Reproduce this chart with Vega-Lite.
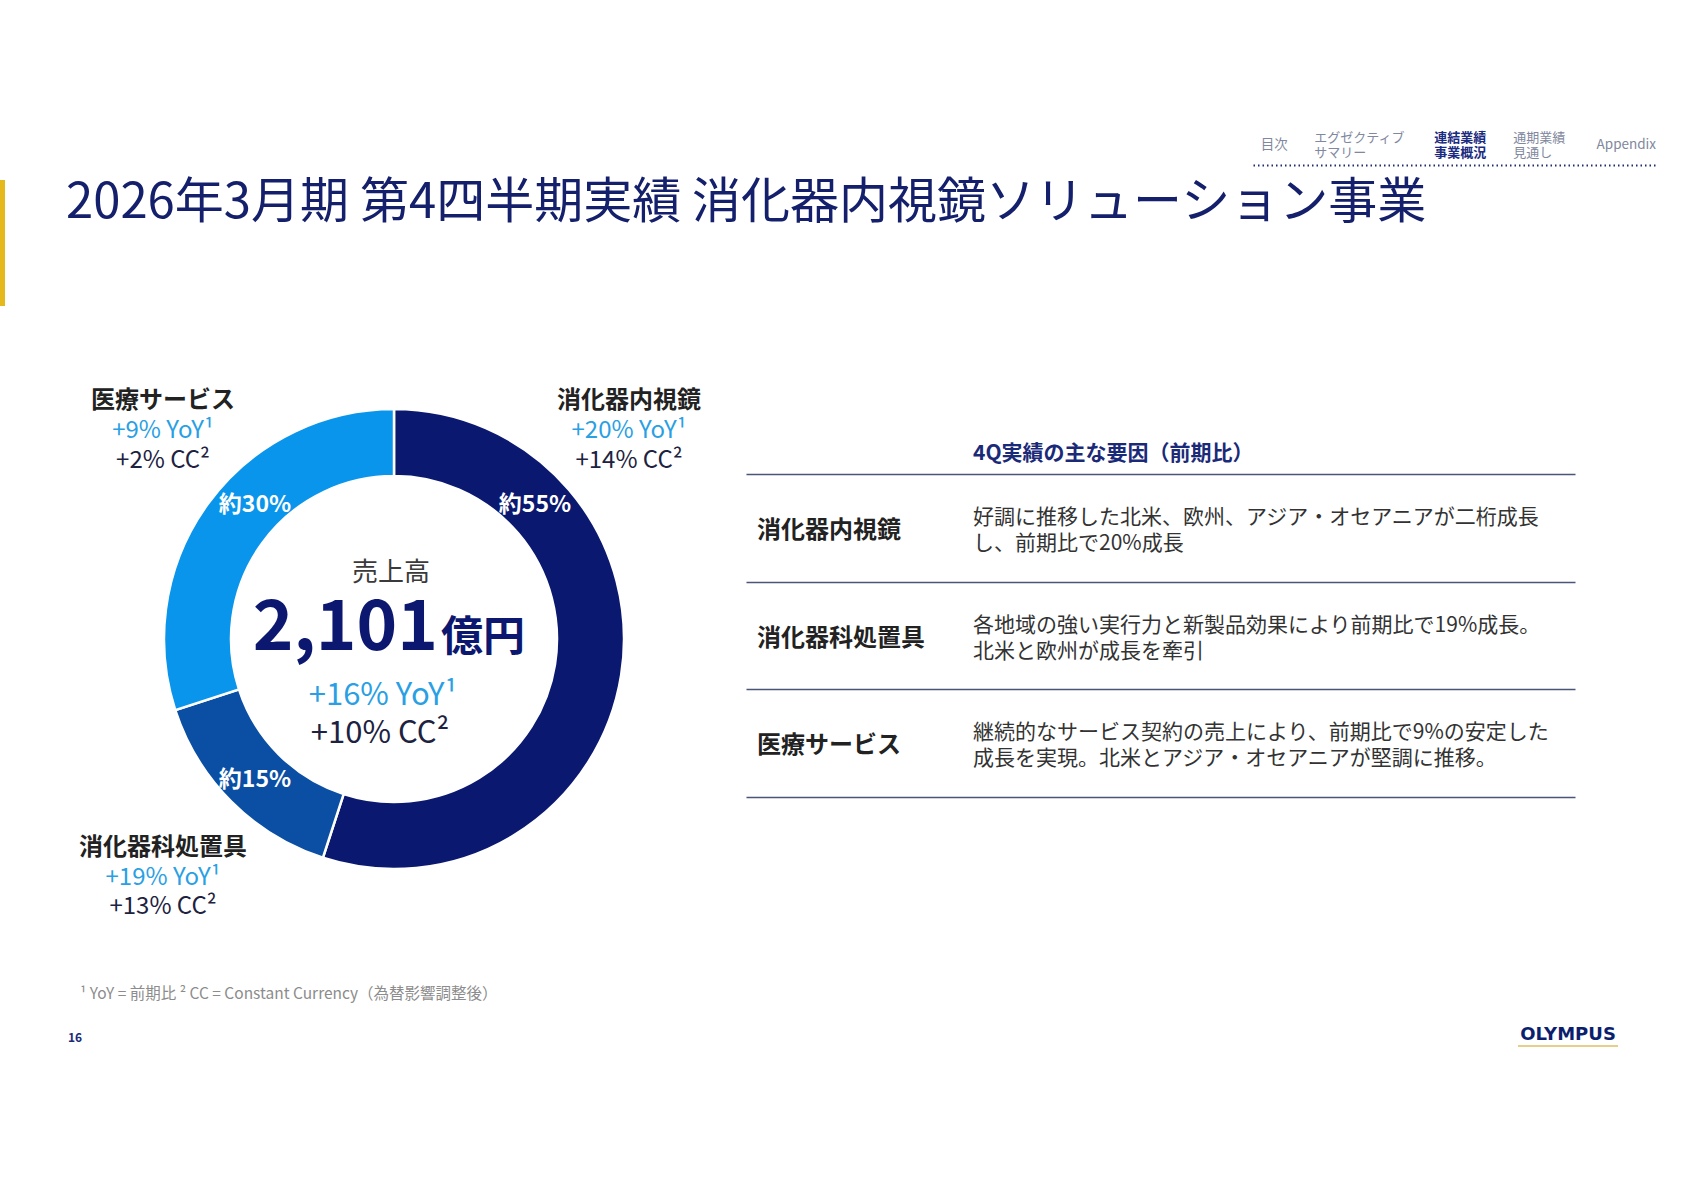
{
  "$schema": "https://vega.github.io/schema/vega-lite/v6.json",
  "width": 1683,
  "height": 1190,
  "autosize": {"type": "fit", "contains": "padding"},
  "padding": 0,
  "background": "#ffffff",
  "config": {"view": {"stroke": null}, "font": "Noto Sans CJK JP"},
  "datasets": {
    "header": [{"area": "タイトル", "title": "2026年3月期 第4四半期実績 消化器内視鏡ソリューション事業"}],
    "nav": [
      {"area": "ナビ", "item": "目次", "label": "目次", "current": false},
      {"area": "ナビ", "item": "エグゼクティブサマリー", "label": "エグゼクティブ\nサマリー", "current": false},
      {"area": "ナビ", "item": "連結業績事業概況", "label": "連結業績\n事業概況", "current": true},
      {"area": "ナビ", "item": "通期業績見通し", "label": "通期業績\n見通し", "current": false},
      {"area": "ナビ", "item": "Appendix", "label": "Appendix", "current": false}
    ],
    "segments": [
      {"business": "消化器内視鏡ソリューション事業", "segment": "消化器内視鏡", "rank": 1, "share": 55, "shareLabel": "約55%", "yoy": "+20% YoY¹", "cc": "+14% CC²", "side": "right", "level": "upper"},
      {"business": "消化器内視鏡ソリューション事業", "segment": "消化器科処置具", "rank": 2, "share": 15, "shareLabel": "約15%", "yoy": "+19% YoY¹", "cc": "+13% CC²", "side": "left", "level": "lower"},
      {"business": "消化器内視鏡ソリューション事業", "segment": "医療サービス", "rank": 3, "share": 30, "shareLabel": "約30%", "yoy": "+9% YoY¹", "cc": "+2% CC²", "side": "left", "level": "upper"}
    ],
    "total": [{"business": "消化器内視鏡ソリューション事業", "caption": "売上高", "sales": 2101, "unit": "億円", "yoy": "+16% YoY¹", "cc": "+10% CC²"}],
    "drivers": [
      {"segment": "消化器内視鏡", "column": "事業", "text": "消化器内視鏡"},
      {"segment": "消化器内視鏡", "column": "4Q実績の主な要因（前期比）", "text": "好調に推移した北米、欧州、アジア・オセアニアが二桁成長\nし、前期比で20%成長"},
      {"segment": "消化器科処置具", "column": "事業", "text": "消化器科処置具"},
      {"segment": "消化器科処置具", "column": "4Q実績の主な要因（前期比）", "text": "各地域の強い実行力と新製品効果により前期比で19%成長。\n北米と欧州が成長を牽引"},
      {"segment": "医療サービス", "column": "事業", "text": "医療サービス"},
      {"segment": "医療サービス", "column": "4Q実績の主な要因（前期比）", "text": "継続的なサービス契約の売上により、前期比で9%の安定した\n成長を実現。北米とアジア・オセアニアが堅調に推移。"}
    ],
    "footer": [
      {"area": "注記", "text": "¹ YoY = 前期比  ² CC = Constant Currency（為替影響調整後）"},
      {"area": "ページ", "text": "16"},
      {"area": "ロゴ", "text": "OLYMPUS"}
    ]
  },
  "resolve": {"scale": {"x": "independent", "y": "independent"}, "axis": {"x": "independent", "y": "independent"}},
  "layer": [
    {
      "data": {"name": "header"},
      "mark": {"type": "rect", "color": "#e5b81c"},
      "encoding": {
        "x": {"field": "area", "type": "nominal", "scale": {"type": "band", "range": [0, 5], "paddingInner": 0, "paddingOuter": 0}, "axis": null},
        "y": {"field": "area", "type": "nominal", "scale": {"type": "band", "range": [180, 306], "paddingInner": 0, "paddingOuter": 0}, "axis": null}
      }
    },
    {
      "data": {"name": "header"},
      "mark": {"type": "text", "align": "left", "baseline": "middle", "fontSize": 49, "color": "#15206c"},
      "encoding": {
        "text": {"field": "title"},
        "x": {"field": "area", "type": "nominal", "scale": {"type": "point", "range": [66, 66]}, "axis": null},
        "y": {"field": "area", "type": "nominal", "scale": {"type": "point", "range": [203, 203]}, "axis": null}
      }
    },
    {
      "data": {"name": "nav"},
      "encoding": {
        "x": {"field": "item", "type": "nominal", "scale": {"type": "point", "domain": ["目次", "エグゼクティブサマリー", "連結業績事業概況", "通期業績見通し", "Appendix"], "range": [1253, 1658], "padding": 0.3, "align": 0.4},
          "axis": {"orient": "bottom", "offset": -1025, "domain": true, "domainColor": "#1f2d6e", "domainWidth": 2, "domainDash": [1.5, 3], "ticks": false, "labels": false, "grid": false, "title": null}},
        "y": {"field": "area", "type": "nominal", "scale": {"type": "point", "range": [145, 145]}, "axis": null},
        "text": {"field": "label"}
      },
      "layer": [
        {"transform": [{"filter": "indexof(datum.label, '\\n') < 0"}], "mark": {"type": "text", "fontSize": 13.5, "color": "#7f889e", "baseline": "middle"}},
        {"transform": [{"filter": {"field": "item", "equal": "エグゼクティブサマリー"}}], "mark": {"type": "text", "lineBreak": "\n", "lineHeight": 14.5, "fontSize": 13, "color": "#7f889e", "align": "left", "baseline": "middle", "dx": -48, "dy": -7}},
        {"transform": [{"filter": {"field": "item", "equal": "通期業績見通し"}}], "mark": {"type": "text", "lineBreak": "\n", "lineHeight": 14.5, "fontSize": 13, "color": "#7f889e", "align": "left", "baseline": "middle", "dx": -25, "dy": -7}},
        {"transform": [{"filter": "datum.current"}], "mark": {"type": "text", "lineBreak": "\n", "lineHeight": 14.5, "fontSize": 13, "fontWeight": "bold", "color": "#1b2b80", "align": "left", "baseline": "middle", "dx": -16, "dy": -7}}
      ]
    },
    {
      "encoding": {
        "x": {"field": "business", "type": "nominal", "scale": {"type": "point", "range": [394, 394]}, "axis": null},
        "y": {"field": "business", "type": "nominal", "scale": {"type": "point", "range": [639, 639]}, "axis": null}
      },
      "layer": [
        {
          "data": {"name": "segments"},
          "mark": {"type": "arc", "outerRadius": 230, "innerRadius": 163, "stroke": "#ffffff", "strokeWidth": 2.5},
          "encoding": {
            "theta": {"field": "share", "type": "quantitative", "stack": true},
            "order": {"field": "rank", "type": "quantitative", "sort": "ascending"},
            "color": {"field": "segment", "type": "nominal", "scale": {"domain": ["消化器内視鏡", "消化器科処置具", "医療サービス"], "range": ["#0b1870", "#0a4fa4", "#0a95ec"]}, "legend": null}
          }
        },
        {"data": {"name": "total"}, "mark": {"type": "text", "fontSize": 26, "color": "#3a3a3a", "baseline": "middle", "dx": -3, "dy": -66}, "encoding": {"text": {"field": "caption"}}},
        {"data": {"name": "total"}, "mark": {"type": "text", "fontSize": 69, "fontWeight": "bold", "color": "#0c1870", "align": "right", "baseline": "alphabetic", "dx": 44, "dy": 11}, "encoding": {"text": {"field": "sales", "type": "quantitative", "format": ","}}},
        {"data": {"name": "total"}, "mark": {"type": "text", "fontSize": 42, "fontWeight": "bold", "color": "#0c1870", "align": "left", "baseline": "alphabetic", "dx": 47, "dy": 12}, "encoding": {"text": {"field": "unit"}}},
        {"data": {"name": "total"}, "mark": {"type": "text", "fontSize": 31, "color": "#2a9fe4", "baseline": "middle", "dx": -11, "dy": 57}, "encoding": {"text": {"field": "yoy"}}},
        {"data": {"name": "total"}, "mark": {"type": "text", "fontSize": 31, "color": "#1c2240", "baseline": "middle", "dx": -14, "dy": 95}, "encoding": {"text": {"field": "cc"}}}
      ]
    },
    {
      "data": {"name": "segments"},
      "mark": {"type": "text", "fontSize": 23, "fontWeight": "bold", "color": "#ffffff", "baseline": "middle"},
      "encoding": {
        "text": {"field": "shareLabel"},
        "x": {"field": "side", "type": "nominal", "scale": {"type": "point", "domain": ["left", "right"], "range": [255, 535], "padding": 0}, "axis": null},
        "y": {"field": "level", "type": "nominal", "scale": {"type": "point", "domain": ["upper", "lower"], "range": [505, 780], "padding": 0}, "axis": null}
      }
    },
    {
      "data": {"name": "segments"},
      "mark": {"type": "text", "fontSize": 24, "fontWeight": "bold", "color": "#222222", "baseline": "middle"},
      "encoding": {
        "text": {"field": "segment"},
        "x": {"field": "side", "type": "nominal", "scale": {"type": "point", "domain": ["left", "right"], "range": [163, 629], "padding": 0}, "axis": null},
        "y": {"field": "level", "type": "nominal", "scale": {"type": "point", "domain": ["upper", "lower"], "range": [401, 848], "padding": 0}, "axis": null}
      }
    },
    {
      "data": {"name": "segments"},
      "mark": {"type": "text", "fontSize": 24, "color": "#2a9fe4", "baseline": "middle"},
      "encoding": {
        "text": {"field": "yoy"},
        "x": {"field": "side", "type": "nominal", "scale": {"type": "point", "domain": ["left", "right"], "range": [163, 629], "padding": 0}, "axis": null},
        "y": {"field": "level", "type": "nominal", "scale": {"type": "point", "domain": ["upper", "lower"], "range": [431, 878], "padding": 0}, "axis": null}
      }
    },
    {
      "data": {"name": "segments"},
      "mark": {"type": "text", "fontSize": 24, "color": "#1c2240", "baseline": "middle"},
      "encoding": {
        "text": {"field": "cc"},
        "x": {"field": "side", "type": "nominal", "scale": {"type": "point", "domain": ["left", "right"], "range": [163, 629], "padding": 0}, "axis": null},
        "y": {"field": "level", "type": "nominal", "scale": {"type": "point", "domain": ["upper", "lower"], "range": [461, 907], "padding": 0}, "axis": null}
      }
    },
    {
      "data": {"name": "drivers"},
      "encoding": {
        "x": {"field": "column", "type": "nominal", "bandPosition": 0,
          "scale": {"type": "band", "domain": ["事業", "4Q実績の主な要因（前期比）"], "range": [746, 1575], "paddingInner": 0, "paddingOuter": 0.919, "align": 0.0277, "round": false},
          "axis": {"orient": "top", "offset": -453, "values": ["4Q実績の主な要因（前期比）"], "bandPosition": 0, "labelOffset": -108, "domain": false, "ticks": false, "tickSize": 0, "labelPadding": 0, "labelAngle": 0, "labelLimit": 600, "labelAlign": "left", "labelBaseline": "middle", "labelFontSize": 21, "labelFontWeight": "bold", "labelColor": "#1b2a78", "labelOverlap": false, "labelBound": false, "labelFlush": false, "title": null, "grid": false}},
        "y": {"field": "segment", "type": "nominal", "bandPosition": 0.5,
          "scale": {"type": "band", "domain": ["消化器内視鏡", "消化器科処置具", "医療サービス"], "range": [474, 797], "paddingInner": 0, "paddingOuter": 0, "round": false},
          "axis": {"orient": "left", "grid": true, "tickBand": "extent", "gridColor": "#4b5577", "gridWidth": 1.5, "domain": false, "ticks": false, "labels": false, "title": null}},
        "text": {"field": "text"}
      },
      "layer": [
        {"transform": [{"filter": {"field": "column", "equal": "事業"}}], "mark": {"type": "text", "align": "left", "baseline": "middle", "fontSize": 24, "fontWeight": "bold", "color": "#222222", "dy": 3}},
        {"transform": [{"filter": {"field": "column", "equal": "4Q実績の主な要因（前期比）"}}], "mark": {"type": "text", "align": "left", "baseline": "middle", "fontSize": 21, "lineBreak": "\n", "lineHeight": 26, "color": "#333333", "dy": -10}}
      ]
    },
    {
      "data": {"name": "footer"},
      "transform": [{"filter": {"field": "area", "equal": "注記"}}],
      "mark": {"type": "text", "align": "left", "baseline": "middle", "fontSize": 15.5, "color": "#8c8c8c"},
      "encoding": {
        "text": {"field": "text"},
        "x": {"field": "area", "type": "nominal", "scale": {"type": "point", "range": [80, 80]}, "axis": null},
        "y": {"field": "area", "type": "nominal", "scale": {"type": "point", "range": [994, 994]}, "axis": null}
      }
    },
    {
      "data": {"name": "footer"},
      "transform": [{"filter": {"field": "area", "equal": "ページ"}}],
      "mark": {"type": "text", "align": "left", "baseline": "middle", "fontSize": 12, "fontWeight": "bold", "color": "#1b2a78"},
      "encoding": {
        "text": {"field": "text"},
        "x": {"field": "area", "type": "nominal", "scale": {"type": "point", "range": [68, 68]}, "axis": null},
        "y": {"field": "area", "type": "nominal", "scale": {"type": "point", "range": [1038, 1038]}, "axis": null}
      }
    },
    {
      "data": {"name": "footer"},
      "transform": [{"filter": {"field": "area", "equal": "ロゴ"}}],
      "encoding": {
        "x": {"field": "area", "type": "nominal", "scale": {"type": "point", "range": [1568, 1568]}, "axis": null},
        "y": {"field": "area", "type": "nominal", "scale": {"type": "point", "range": [1035, 1035]}, "axis": null}
      },
      "layer": [
        {"mark": {"type": "tick", "orient": "horizontal", "size": 100, "thickness": 2, "color": "#dcb95a", "opacity": 0.7, "yOffset": 11}},
        {"mark": {"type": "text", "baseline": "middle", "font": "DejaVu Sans", "fontSize": 18, "fontWeight": "bold", "color": "#0c1f6e"}, "encoding": {"text": {"field": "text"}}}
      ]
    }
  ]
}
